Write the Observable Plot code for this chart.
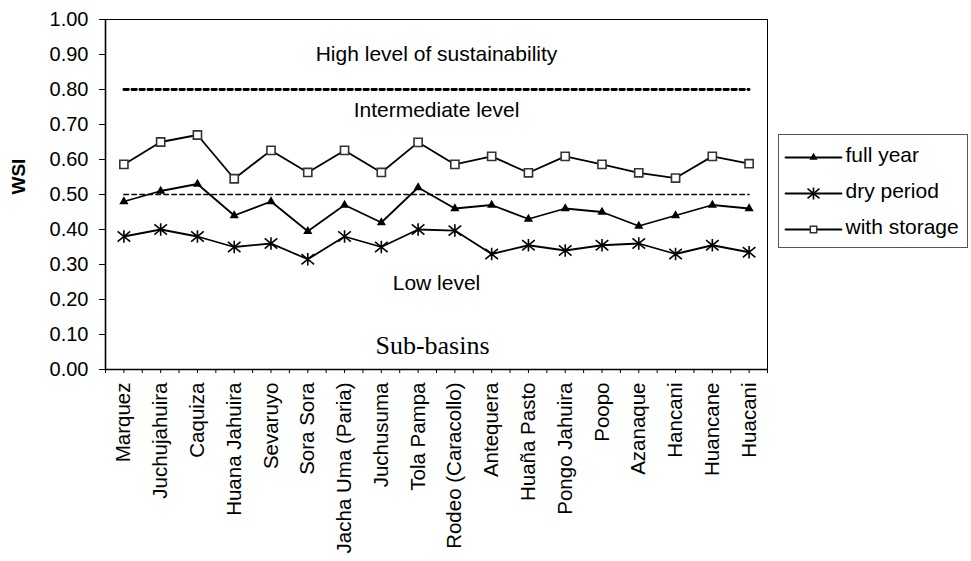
<!DOCTYPE html>
<html>
<head>
<meta charset="utf-8">
<script src="https://cdn.jsdelivr.net/npm/d3@7"></script>
<script src="https://cdn.jsdelivr.net/npm/@observablehq/plot@0.6"></script>
<style>
  html, body { margin: 0; padding: 0; background: white; }
  #wrap { position: relative; width: 971px; height: 561px; overflow: hidden; }
  #legend { position: absolute; left: 778px; top: 134px; width: 190px; height: 114px; border: 1px solid #555; background: white; box-sizing: border-box; }
  #legend svg { display: block; }
</style>
</head>
<body>
<div id="wrap"><div id="chart"></div><div id="legend"></div></div>
<script>
// ---- data ----
const categories = ["Marquez","Juchujahuira","Caquiza","Huana Jahuira","Sevaruyo","Sora Sora","Jacha Uma (Paria)","Juchusuma","Tola Pampa","Rodeo (Caracollo)","Antequera","Huaña Pasto","Pongo Jahuira","Poopo","Azanaque","Hancani","Huancane","Huacani"];
const fullYear    = [0.48,0.51,0.53,0.44,0.48,0.395,0.47,0.42,0.52,0.46,0.47,0.43,0.46,0.45,0.41,0.44,0.47,0.46];
const dryPeriod   = [0.38,0.40,0.38,0.35,0.36,0.315,0.38,0.35,0.40,0.397,0.33,0.355,0.34,0.355,0.36,0.33,0.355,0.335];
const withStorage = [0.586,0.65,0.67,0.545,0.626,0.563,0.626,0.563,0.649,0.586,0.609,0.562,0.609,0.586,0.562,0.547,0.609,0.588];
const seriesNames = ["full year","dry period","with storage"];
const yTicks = [0,0.1,0.2,0.3,0.4,0.5,0.6,0.7,0.8,0.9,1.0];
const thresholds = [0.5, 0.8];
const levelLabels = ["High level of sustainability","Intermediate level","Low level"];
const levelLabelY = [0.9, 0.74, 0.245];
const xAxisTitle = "Sub-basins";
const xAxisTitleY = 0.0695;
const yAxisTitle = "WSI";

// ---- build table ----
const rows = [];
categories.forEach((c, i) => {
  rows.push({series: "full year", i: i + 0.5, v: fullYear[i]});
  rows.push({series: "dry period", i: i + 0.5, v: dryPeriod[i]});
  rows.push({series: "with storage", i: i + 0.5, v: withStorage[i]});
});
const bySeries = s => rows.filter(r => r.series === s);

// custom asterisk marker (vertical bar + X)
const starSymbol = {
  draw(ctx, size) {
    const r = Math.sqrt(size / Math.PI);
    ctx.moveTo(0, -r); ctx.lineTo(0, r);
    ctx.moveTo(-r, -r * 0.8); ctx.lineTo(r, r * 0.8);
    ctx.moveTo(-r, r * 0.8); ctx.lineTo(r, -r * 0.8);
  }
};

const firstX = 0.5, lastX = categories.length - 0.5;
const threshRows = thresholds.map(t => [{i: firstX, v: t}, {i: lastX, v: t}]);
const xTicks = d3.range(0, categories.length * 2 + 1).map(k => k / 2);

const font = "Liberation Sans, Arial, Helvetica, sans-serif";

const chart = Plot.plot({
  width: 971,
  height: 561,
  marginLeft: 105,
  marginRight: 204,
  marginTop: 19,
  marginBottom: 192,
  style: {fontFamily: font, fontSize: "20px", background: "white", color: "black"},
  x: {type: "linear", domain: [0, categories.length]},
  y: {domain: [0, 1]},
  marks: [
    Plot.frame({stroke: "black", strokeWidth: 1}),
    // thresholds
    Plot.line(threshRows[0], {x: "i", y: "v", stroke: "black", strokeWidth: 1.6, strokeDasharray: "4.5,3.5"}),
    Plot.line(threshRows[1], {x: "i", y: "v", stroke: "black", strokeWidth: 2.8, strokeDasharray: "4.5,3.5"}),
    // level labels
    Plot.text(levelLabels, {y: (d, k) => levelLabelY[k], text: d => d, frameAnchor: "middle", fontSize: 21, fill: "black"}),
    Plot.text([xAxisTitle], {y: () => xAxisTitleY, text: d => d, frameAnchor: "middle", dx: -4, fontSize: 26, fontFamily: "Liberation Serif, Times New Roman, serif", fill: "black"}),
    Plot.text([yAxisTitle], {frameAnchor: "left", text: d => d, dx: -87, rotate: -90, fontSize: 19, fontWeight: "bold", fill: "black"}),
    // axes
    Plot.axisY({ticks: yTicks, tickFormat: d3.format(".2f"), tickSize: 6, tickPadding: 11, label: null, fontSize: 20}),
    Plot.axisX({ticks: xTicks, tickFormat: d => Number.isInteger(d) ? "" : categories[Math.floor(d)], tickRotate: -90, tickSize: 4, tickPadding: 9, label: null, fontSize: 20.5}),
    Plot.ruleX([0], {stroke: "black", strokeWidth: 1.6}),
    Plot.ruleY([0], {stroke: "black", strokeWidth: 1.6}),
    // series
    Plot.line(bySeries("with storage"), {x: "i", y: "v", stroke: "black", strokeWidth: 1.8}),
    Plot.line(bySeries("full year"), {x: "i", y: "v", stroke: "black", strokeWidth: 1.8}),
    Plot.line(bySeries("dry period"), {x: "i", y: "v", stroke: "black", strokeWidth: 1.8}),
    Plot.dot(bySeries("with storage"), {x: "i", y: "v", symbol: "square", r: 4.6, stroke: "#333", strokeWidth: 1.6, fill: "white"}),
    Plot.dot(bySeries("full year"), {x: "i", y: "v", symbol: "triangle", r: 3.4, fill: "black", stroke: "none"}),
    Plot.dot(bySeries("dry period"), {x: "i", y: "v", symbol: starSymbol, r: 6.3, stroke: "black", strokeWidth: 1.6, fill: "none"})
  ]
});
document.getElementById("chart").appendChild(chart);

// ---- legend ----
const legendRows = seriesNames.flatMap(s => [{s, t: 0}, {s, t: 1}]);
const legend = Plot.plot({
  width: 188,
  height: 112,
  margin: 0,
  style: {fontFamily: font, fontSize: "21px", background: "white", color: "black"},
  x: {domain: [0, 1], range: [6, 62], axis: null},
  y: {type: "point", domain: seriesNames, range: [21, 94], padding: 0, axis: null},
  marks: [
    Plot.line(legendRows, {x: "t", y: "s", z: "s", stroke: "black", strokeWidth: 1.8}),
    Plot.dot(["with storage"], {x: () => 0.5, y: d => d, symbol: "square", r: 3.6, stroke: "#333", strokeWidth: 1.5, fill: "white"}),
    Plot.dot(["full year"], {x: () => 0.5, y: d => d, symbol: "triangle", r: 3.0, fill: "black"}),
    Plot.dot(["dry period"], {x: () => 0.5, y: d => d, symbol: starSymbol, r: 6, stroke: "black", strokeWidth: 1.6, fill: "none"}),
    Plot.text(seriesNames, {x: () => 1, y: d => d, text: d => d, textAnchor: "start", dx: 4, dy: -2, fontSize: 21, fill: "black"})
  ]
});
document.getElementById("legend").appendChild(legend);
</script>
</body>
</html>
